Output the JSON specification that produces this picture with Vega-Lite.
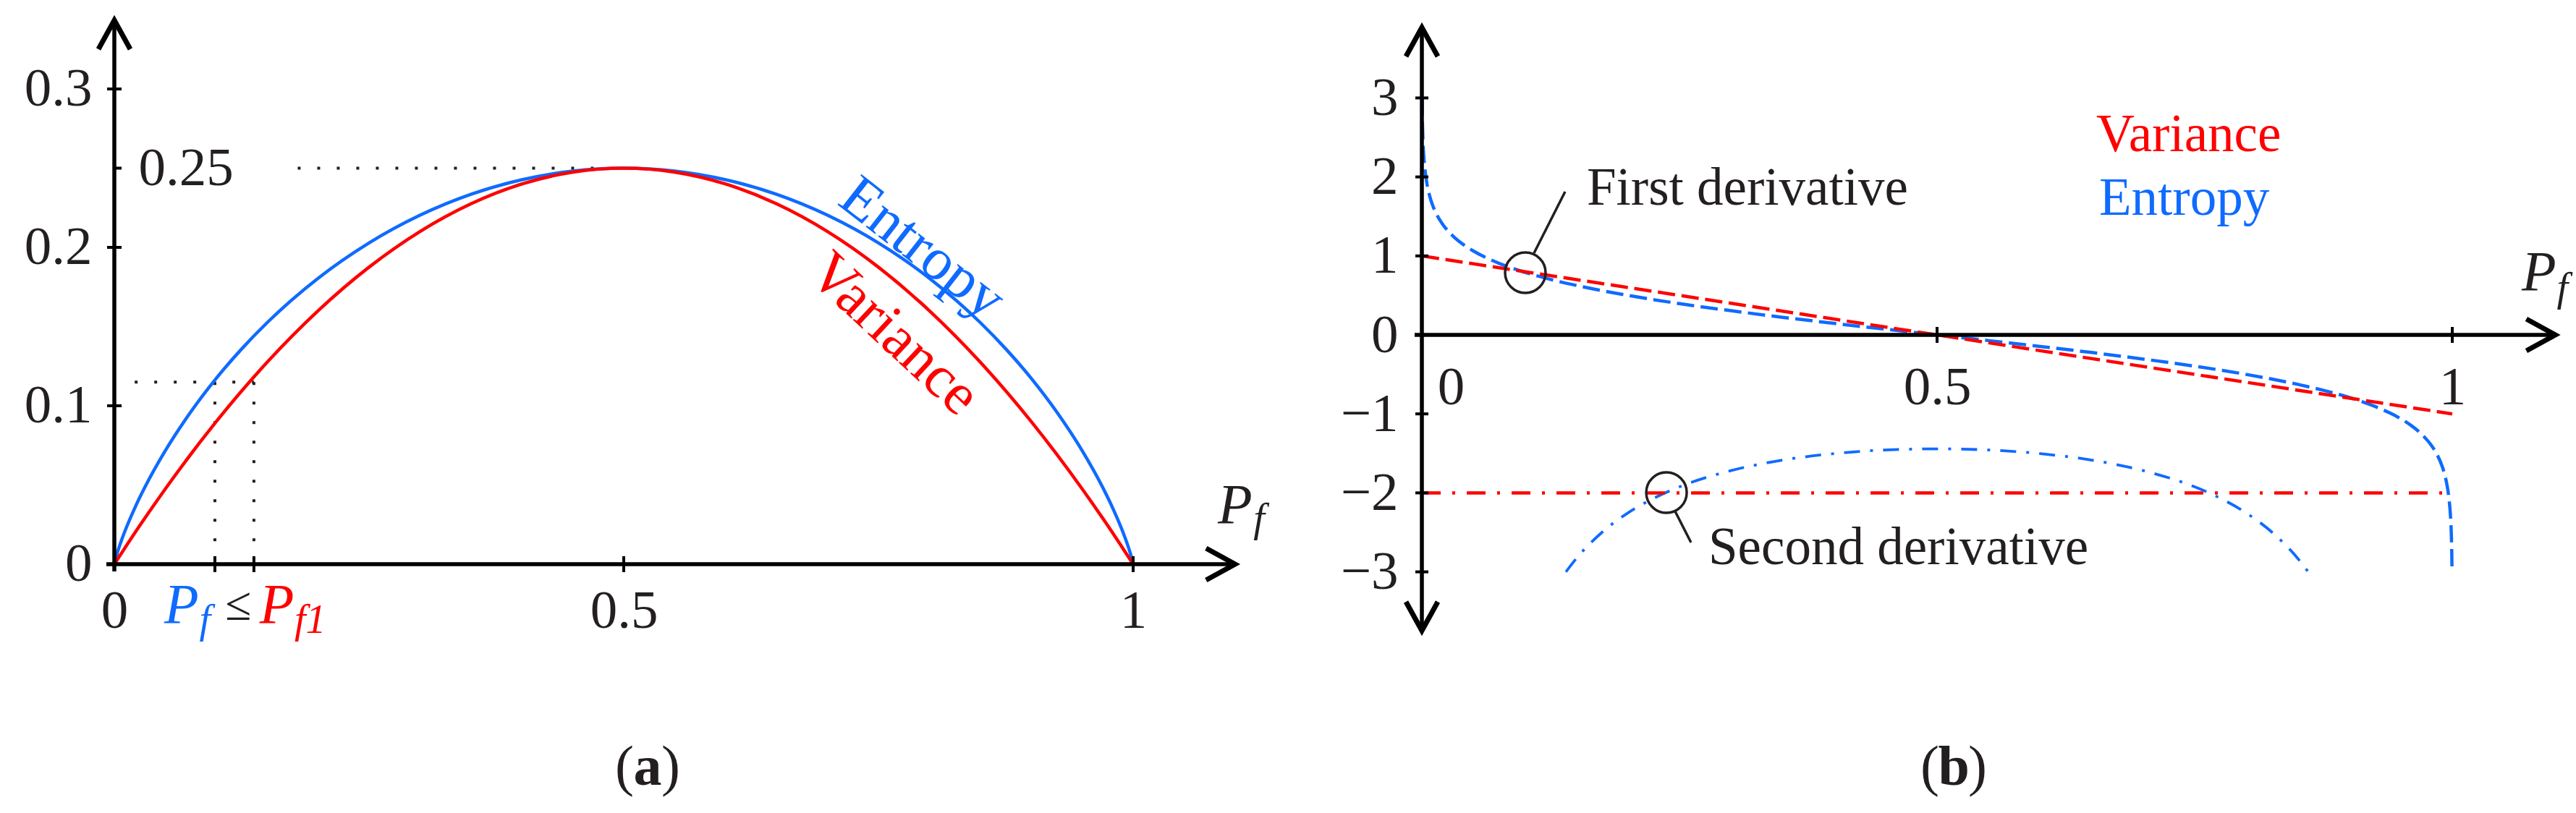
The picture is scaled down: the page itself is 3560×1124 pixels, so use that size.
{
  "$schema": "https://vega.github.io/schema/vega-lite/v6.json",
  "width": 3560,
  "height": 1124,
  "padding": 0,
  "autosize": {"type": "none"},
  "background": "white",
  "config": {
    "view": {"stroke": null},
    "axis": {"grid": false, "domain": false, "ticks": false, "tickSize": 0, "labelFont": "Liberation Serif", "labelFontSize": 75, "labelColor": "#231f20", "labelOverlap": false, "labelFlush": false, "labelBound": false},
    "text": {"font": "Liberation Serif", "color": "#231f20"}
  },
  "resolve": {"scale": {"x": "independent", "y": "independent"}, "axis": {"x": "independent", "y": "independent"}},
  "datasets": {
    "a_ent": [
      {"x": 0, "y": 0}, {"x": 0.0025, "y": 0.0063}, {"x": 0.005, "y": 0.01135}, {"x": 0.01, "y": 0.0202}, {"x": 0.02, "y": 0.03536}, {"x": 0.03, "y": 0.0486}, {"x": 0.05, "y": 0.0716}, {"x": 0.075, "y": 0.0961}, {"x": 0.1, "y": 0.1173}, {"x": 0.125, "y": 0.1359}, {"x": 0.15, "y": 0.1525}, {"x": 0.2, "y": 0.1805}, {"x": 0.25, "y": 0.2028}, {"x": 0.3, "y": 0.2203}, {"x": 0.35, "y": 0.2335}, {"x": 0.4, "y": 0.2427}, {"x": 0.45, "y": 0.2482}, {"x": 0.5, "y": 0.25},
      {"x": 0.55, "y": 0.2482}, {"x": 0.6, "y": 0.2427}, {"x": 0.65, "y": 0.2335}, {"x": 0.7, "y": 0.2203}, {"x": 0.75, "y": 0.2028}, {"x": 0.8, "y": 0.1805}, {"x": 0.85, "y": 0.1525}, {"x": 0.875, "y": 0.1359}, {"x": 0.9, "y": 0.1173}, {"x": 0.925, "y": 0.0961}, {"x": 0.95, "y": 0.0716}, {"x": 0.97, "y": 0.0486}, {"x": 0.98, "y": 0.03536}, {"x": 0.99, "y": 0.0202}, {"x": 0.995, "y": 0.01135}, {"x": 0.9975, "y": 0.0063}, {"x": 1, "y": 0}
    ],
    "a_var": [
      {"x": 0, "y": 0}, {"x": 0.025, "y": 0.024375}, {"x": 0.05, "y": 0.0475}, {"x": 0.1, "y": 0.09}, {"x": 0.15, "y": 0.1275}, {"x": 0.2, "y": 0.16}, {"x": 0.25, "y": 0.1875}, {"x": 0.3, "y": 0.21}, {"x": 0.35, "y": 0.2275}, {"x": 0.4, "y": 0.24}, {"x": 0.45, "y": 0.2475}, {"x": 0.5, "y": 0.25},
      {"x": 0.55, "y": 0.2475}, {"x": 0.6, "y": 0.24}, {"x": 0.65, "y": 0.2275}, {"x": 0.7, "y": 0.21}, {"x": 0.75, "y": 0.1875}, {"x": 0.8, "y": 0.16}, {"x": 0.85, "y": 0.1275}, {"x": 0.9, "y": 0.09}, {"x": 0.95, "y": 0.0475}, {"x": 0.975, "y": 0.024375}, {"x": 1, "y": 0}
    ],
    "a_dots": [
      {"x": 0.18, "y": 0.25, "x2": 0.475, "y2": 0.25},
      {"x": 0.02, "y": 0.115, "x2": 0.137, "y2": 0.115},
      {"x": 0.0987, "y": 0.115, "x2": 0.0987, "y2": 0.006},
      {"x": 0.137, "y": 0.115, "x2": 0.137, "y2": 0.006}
    ],
    "a_axes": [
      {"x": -0.0078, "y": 0, "x2": 1.1, "y2": 0},
      {"x": 0, "y": -0.0046, "x2": 0, "y2": 0.3434}
    ],
    "a_xticks": [{"x": 0.0987, "y": 0}, {"x": 0.137, "y": 0}, {"x": 0.5, "y": 0}, {"x": 1, "y": 0}],
    "a_yticks": [{"x": 0, "y": 0.1}, {"x": 0, "y": 0.2}, {"x": 0, "y": 0.3}],
    "a_ytick_r": [{"x": 0, "y": 0.25}],
    "a_arrow_r": [{"x": 1.1, "y": 0}],
    "a_arrow_u": [{"x": 0, "y": 0.3434}],
    "a_lbl_ent": [{"x": 0.7933, "y": 0.1995, "t": "Entropy"}],
    "a_lbl_var": [{"x": 0.7658, "y": 0.1453, "t": "Variance"}],
    "a_P_black": [{"x": 1.0831, "y": 0.026, "t": "P"}],
    "a_f_black": [{"x": 1.118, "y": 0.0205, "t": "f"}],
    "a_P_blue": [{"x": 0.049, "y": -0.037, "t": "P"}],
    "a_f_blue": [{"x": 0.0835, "y": -0.0434, "t": "f"}],
    "a_leq": [{"x": 0.1215, "y": -0.0352, "t": "≤"}],
    "a_P_red": [{"x": 0.1425, "y": -0.037, "t": "P"}],
    "a_f_red": [{"x": 0.1768, "y": -0.0434, "t": "f1"}],
    "a_cap": [{"x": 0.5234, "y": -0.1393, "o": "(", "m": "a", "c": ")"}],

    "b_ent1": [
      {"x": 0.000244, "y": 3.0}, {"x": 0.0005, "y": 2.741}, {"x": 0.001, "y": 2.491}, {"x": 0.002, "y": 2.241}, {"x": 0.003, "y": 2.094}, {"x": 0.005, "y": 1.909}, {"x": 0.0075, "y": 1.762}, {"x": 0.01, "y": 1.657}, {"x": 0.015, "y": 1.509}, {"x": 0.02, "y": 1.404}, {"x": 0.03, "y": 1.254}, {"x": 0.04, "y": 1.146}, {"x": 0.05, "y": 1.062}, {"x": 0.075, "y": 0.906}, {"x": 0.1, "y": 0.792}, {"x": 0.125, "y": 0.702}, {"x": 0.15, "y": 0.626}, {"x": 0.2, "y": 0.5}, {"x": 0.25, "y": 0.396}, {"x": 0.3, "y": 0.306}, {"x": 0.35, "y": 0.223}, {"x": 0.4, "y": 0.146}, {"x": 0.45, "y": 0.072}, {"x": 0.5, "y": 0},
      {"x": 0.55, "y": -0.072}, {"x": 0.6, "y": -0.146}, {"x": 0.65, "y": -0.223}, {"x": 0.7, "y": -0.306}, {"x": 0.75, "y": -0.396}, {"x": 0.8, "y": -0.5}, {"x": 0.85, "y": -0.626}, {"x": 0.875, "y": -0.702}, {"x": 0.9, "y": -0.792}, {"x": 0.925, "y": -0.906}, {"x": 0.95, "y": -1.062}, {"x": 0.96, "y": -1.146}, {"x": 0.97, "y": -1.254}, {"x": 0.98, "y": -1.404}, {"x": 0.985, "y": -1.509}, {"x": 0.99, "y": -1.657}, {"x": 0.9925, "y": -1.762}, {"x": 0.995, "y": -1.909}, {"x": 0.997, "y": -2.094}, {"x": 0.998, "y": -2.241}, {"x": 0.999, "y": -2.491}, {"x": 0.9995, "y": -2.741}, {"x": 0.999756, "y": -3.0}
    ],
    "b_var1": [{"x": 0, "y": 1}, {"x": 1, "y": -1}],
    "b_ent2": [
      {"x": 0.1398, "y": -3.0}, {"x": 0.15, "y": -2.829}, {"x": 0.175, "y": -2.498}, {"x": 0.2, "y": -2.254}, {"x": 0.225, "y": -2.069}, {"x": 0.25, "y": -1.924}, {"x": 0.3, "y": -1.718}, {"x": 0.35, "y": -1.585}, {"x": 0.4, "y": -1.503}, {"x": 0.45, "y": -1.457}, {"x": 0.5, "y": -1.443},
      {"x": 0.55, "y": -1.457}, {"x": 0.6, "y": -1.503}, {"x": 0.65, "y": -1.585}, {"x": 0.7, "y": -1.718}, {"x": 0.75, "y": -1.924}, {"x": 0.775, "y": -2.069}, {"x": 0.8, "y": -2.254}, {"x": 0.825, "y": -2.498}, {"x": 0.85, "y": -2.829}, {"x": 0.8602, "y": -3.0}
    ],
    "b_var2": [{"x": 0, "y": -2}, {"x": 0.993, "y": -2}],
    "b_axes": [
      {"x": -0.007, "y": 0, "x2": 1.1, "y2": 0},
      {"x": 0, "y": -3.745, "x2": 0, "y2": 3.892}
    ],
    "b_yticks": [{"x": 0, "y": -3}, {"x": 0, "y": -2}, {"x": 0, "y": -1}, {"x": 0, "y": 0}, {"x": 0, "y": 1}, {"x": 0, "y": 2}, {"x": 0, "y": 3}],
    "b_xticks": [{"x": 0.5, "y": 0}, {"x": 1, "y": 0}],
    "b_arrow_r": [{"x": 1.1, "y": 0}],
    "b_arrow_u": [{"x": 0, "y": 3.892}],
    "b_arrow_d": [{"x": 0, "y": -3.745}],
    "b_circles": [{"x": 0.1004, "y": 0.788}, {"x": 0.2374, "y": -1.996}],
    "b_leaders": [
      {"x": 0.1088, "y": 1.035, "x2": 0.139, "y2": 1.813},
      {"x": 0.2458, "y": -2.234, "x2": 0.2612, "y2": -2.628}
    ],
    "b_notes": [
      {"x": 0.1601, "y": 1.648, "t": "First derivative"},
      {"x": 0.2781, "y": -2.903, "t": "Second derivative"}
    ],
    "b_lbl_var": [{"x": 0.6545, "y": 2.326, "t": "Variance"}],
    "b_lbl_ent": [{"x": 0.6573, "y": 1.52, "t": "Entropy"}],
    "b_P": [{"x": 1.0674, "y": 0.568, "t": "P"}],
    "b_f": [{"x": 1.1015, "y": 0.43, "t": "f"}],
    "b_cap": [{"x": 0.5162, "y": -5.696, "o": "(", "m": "b", "c": ")"}]
  },
  "layer": [
    {
      "encoding": {
        "x": {"field": "x", "type": "quantitative",
          "scale": {"domain": [-0.11222, 2.41619], "nice": false, "zero": false},
          "axis": {"orient": "bottom", "offset": -344, "values": [0, 0.5, 1], "format": ".1~f", "labelBaseline": "alphabetic", "labelAlign": "center", "labelPadding": 87, "title": null}},
        "y": {"field": "y", "type": "quantitative",
          "scale": {"domain": [-0.15708, 0.35616], "nice": false, "zero": false},
          "axis": {"orient": "left", "offset": -158, "values": [0, 0.1, 0.2, 0.25, 0.3], "format": ".2~f", "labelBaseline": "middle",
            "labelPadding": {"condition": {"test": "datum.value == 0.25", "value": -33}, "value": 31},
            "labelAlign": {"condition": {"test": "datum.value == 0.25", "value": "left"}, "value": "right"},
            "title": null}}
      },
      "layer": [
        {"data": {"name": "a_dots"}, "mark": {"type": "rule", "strokeDash": [4, 23], "strokeWidth": 4, "color": "#231f20"}, "encoding": {"x2": {"field": "x2"}, "y2": {"field": "y2"}}},
        {"data": {"name": "a_ent"}, "mark": {"type": "line", "color": "#0f6bff", "strokeWidth": 4.5, "interpolate": "monotone"}, "encoding": {}},
        {"data": {"name": "a_var"}, "mark": {"type": "line", "color": "#ff0000", "strokeWidth": 4.5, "interpolate": "monotone"}, "encoding": {}},
        {"data": {"name": "a_axes"}, "mark": {"type": "rule", "strokeWidth": 5.5, "color": "black"}, "encoding": {"x2": {"field": "x2"}, "y2": {"field": "y2"}}},
        {"data": {"name": "a_xticks"}, "mark": {"type": "tick", "orient": "vertical", "size": 22, "thickness": 4, "color": "black", "opacity": 1}},
        {"data": {"name": "a_yticks"}, "mark": {"type": "tick", "orient": "horizontal", "size": 20, "thickness": 4, "color": "black", "opacity": 1}},
        {"data": {"name": "a_ytick_r"}, "mark": {"type": "tick", "orient": "horizontal", "size": 10, "thickness": 4, "xOffset": 5, "color": "black", "opacity": 1}},
        {"data": {"name": "a_arrow_r"}, "mark": {"type": "point", "shape": "M -1 -0.55 L 0 0 L -1 0.55", "size": 6400, "filled": false, "color": "black", "strokeWidth": 7, "opacity": 1, "strokeJoin": "miter"}},
        {"data": {"name": "a_arrow_u"}, "mark": {"type": "point", "shape": "M -0.55 1 L 0 0 L 0.55 1", "size": 6400, "filled": false, "color": "black", "strokeWidth": 7, "opacity": 1, "strokeJoin": "miter"}},
        {"data": {"name": "a_lbl_ent"}, "mark": {"type": "text", "fontSize": 82, "color": "#0f6bff", "angle": 38, "align": "center", "baseline": "middle"}, "encoding": {"text": {"field": "t"}}},
        {"data": {"name": "a_lbl_var"}, "mark": {"type": "text", "fontSize": 82, "color": "#ff0000", "angle": 43, "align": "center", "baseline": "middle"}, "encoding": {"text": {"field": "t"}}},
        {"data": {"name": "a_P_black"}, "mark": {"type": "text", "fontSize": 78, "fontStyle": "italic", "color": "#231f20", "align": "left", "baseline": "alphabetic"}, "encoding": {"text": {"field": "t"}}},
        {"data": {"name": "a_f_black"}, "mark": {"type": "text", "fontSize": 56, "fontStyle": "italic", "color": "#231f20", "align": "left", "baseline": "alphabetic"}, "encoding": {"text": {"field": "t"}}},
        {"data": {"name": "a_P_blue"}, "mark": {"type": "text", "fontSize": 78, "fontStyle": "italic", "color": "#0f6bff", "align": "left", "baseline": "alphabetic"}, "encoding": {"text": {"field": "t"}}},
        {"data": {"name": "a_f_blue"}, "mark": {"type": "text", "fontSize": 56, "fontStyle": "italic", "color": "#0f6bff", "align": "left", "baseline": "alphabetic"}, "encoding": {"text": {"field": "t"}}},
        {"data": {"name": "a_leq"}, "mark": {"type": "text", "fontSize": 66, "color": "#231f20", "align": "center", "baseline": "alphabetic"}, "encoding": {"text": {"field": "t"}}},
        {"data": {"name": "a_P_red"}, "mark": {"type": "text", "fontSize": 78, "fontStyle": "italic", "color": "#ff0000", "align": "left", "baseline": "alphabetic"}, "encoding": {"text": {"field": "t"}}},
        {"data": {"name": "a_f_red"}, "mark": {"type": "text", "fontSize": 56, "fontStyle": "italic", "color": "#ff0000", "align": "left", "baseline": "alphabetic"}, "encoding": {"text": {"field": "t"}}},
        {"data": {"name": "a_cap"}, "mark": {"type": "text", "fontSize": 78, "color": "#231f20", "align": "right", "baseline": "alphabetic", "dx": -19}, "encoding": {"text": {"field": "o"}}},
        {"data": {"name": "a_cap"}, "mark": {"type": "text", "fontSize": 78, "fontWeight": "bold", "color": "#231f20", "align": "center", "baseline": "alphabetic"}, "encoding": {"text": {"field": "m"}}},
        {"data": {"name": "a_cap"}, "mark": {"type": "text", "fontSize": 78, "color": "#231f20", "align": "left", "baseline": "alphabetic", "dx": 19}, "encoding": {"text": {"field": "c"}}}
      ]
    },
    {
      "encoding": {
        "x": {"field": "x", "type": "quantitative",
          "scale": {"domain": [-1.37992, 1.12008], "nice": false, "zero": false},
          "axis": {"orient": "bottom", "offset": -661, "values": [0, 0.5, 1], "format": ".1~f", "labelBaseline": "alphabetic", "labelAlign": "center", "labelPadding": 95,
            "labelOffset": {"condition": {"test": "datum.value == 0", "value": 40}, "value": 0},
            "title": null}},
        "y": {"field": "y", "type": "quantitative",
          "scale": {"domain": [-6.05311, 4.23993], "nice": false, "zero": false},
          "axis": {"orient": "left", "offset": -1965, "values": [-3, -2, -1, 0, 1, 2, 3], "format": "~g", "labelBaseline": "middle", "labelAlign": "right", "labelPadding": 33, "title": null}}
      },
      "layer": [
        {"data": {"name": "b_ent1"}, "mark": {"type": "line", "color": "#0f6bff", "strokeWidth": 4.5, "strokeDash": [24, 9], "interpolate": "monotone"}, "encoding": {}},
        {"data": {"name": "b_var1"}, "mark": {"type": "line", "color": "#ff0000", "strokeWidth": 4.5, "strokeDash": [24, 9]}, "encoding": {}},
        {"data": {"name": "b_ent2"}, "mark": {"type": "line", "color": "#0f6bff", "strokeWidth": 3.8, "strokeDash": [22, 14, 4, 14], "interpolate": "monotone"}, "encoding": {}},
        {"data": {"name": "b_var2"}, "mark": {"type": "line", "color": "#ff0000", "strokeWidth": 4.5, "strokeDash": [26, 16, 4, 16]}, "encoding": {}},
        {"data": {"name": "b_axes"}, "mark": {"type": "rule", "strokeWidth": 5.5, "color": "black"}, "encoding": {"x2": {"field": "x2"}, "y2": {"field": "y2"}}},
        {"data": {"name": "b_yticks"}, "mark": {"type": "tick", "orient": "horizontal", "size": 18, "thickness": 4, "color": "black", "opacity": 1}},
        {"data": {"name": "b_xticks"}, "mark": {"type": "tick", "orient": "vertical", "size": 22, "thickness": 4, "color": "black", "opacity": 1}},
        {"data": {"name": "b_arrow_r"}, "mark": {"type": "point", "shape": "M -1 -0.55 L 0 0 L -1 0.55", "size": 6400, "filled": false, "color": "black", "strokeWidth": 7, "opacity": 1, "strokeJoin": "miter"}},
        {"data": {"name": "b_arrow_u"}, "mark": {"type": "point", "shape": "M -0.55 1 L 0 0 L 0.55 1", "size": 6400, "filled": false, "color": "black", "strokeWidth": 7, "opacity": 1, "strokeJoin": "miter"}},
        {"data": {"name": "b_arrow_d"}, "mark": {"type": "point", "shape": "M -0.55 -1 L 0 0 L 0.55 -1", "size": 6400, "filled": false, "color": "black", "strokeWidth": 7, "opacity": 1, "strokeJoin": "miter"}},
        {"data": {"name": "b_circles"}, "mark": {"type": "point", "shape": "circle", "size": 3136, "filled": false, "color": "#231f20", "strokeWidth": 3.5, "opacity": 1}},
        {"data": {"name": "b_leaders"}, "mark": {"type": "rule", "strokeWidth": 3.5, "color": "#231f20"}, "encoding": {"x2": {"field": "x2"}, "y2": {"field": "y2"}}},
        {"data": {"name": "b_notes"}, "mark": {"type": "text", "fontSize": 73, "color": "#231f20", "align": "left", "baseline": "alphabetic"}, "encoding": {"text": {"field": "t"}}},
        {"data": {"name": "b_lbl_var"}, "mark": {"type": "text", "fontSize": 73, "color": "#ff0000", "align": "left", "baseline": "alphabetic"}, "encoding": {"text": {"field": "t"}}},
        {"data": {"name": "b_lbl_ent"}, "mark": {"type": "text", "fontSize": 73, "color": "#0f6bff", "align": "left", "baseline": "alphabetic"}, "encoding": {"text": {"field": "t"}}},
        {"data": {"name": "b_P"}, "mark": {"type": "text", "fontSize": 78, "fontStyle": "italic", "color": "#231f20", "align": "left", "baseline": "alphabetic"}, "encoding": {"text": {"field": "t"}}},
        {"data": {"name": "b_f"}, "mark": {"type": "text", "fontSize": 56, "fontStyle": "italic", "color": "#231f20", "align": "left", "baseline": "alphabetic"}, "encoding": {"text": {"field": "t"}}},
        {"data": {"name": "b_cap"}, "mark": {"type": "text", "fontSize": 78, "color": "#231f20", "align": "right", "baseline": "alphabetic", "dx": -20}, "encoding": {"text": {"field": "o"}}},
        {"data": {"name": "b_cap"}, "mark": {"type": "text", "fontSize": 78, "fontWeight": "bold", "color": "#231f20", "align": "center", "baseline": "alphabetic"}, "encoding": {"text": {"field": "m"}}},
        {"data": {"name": "b_cap"}, "mark": {"type": "text", "fontSize": 78, "color": "#231f20", "align": "left", "baseline": "alphabetic", "dx": 20}, "encoding": {"text": {"field": "c"}}}
      ]
    }
  ]
}
